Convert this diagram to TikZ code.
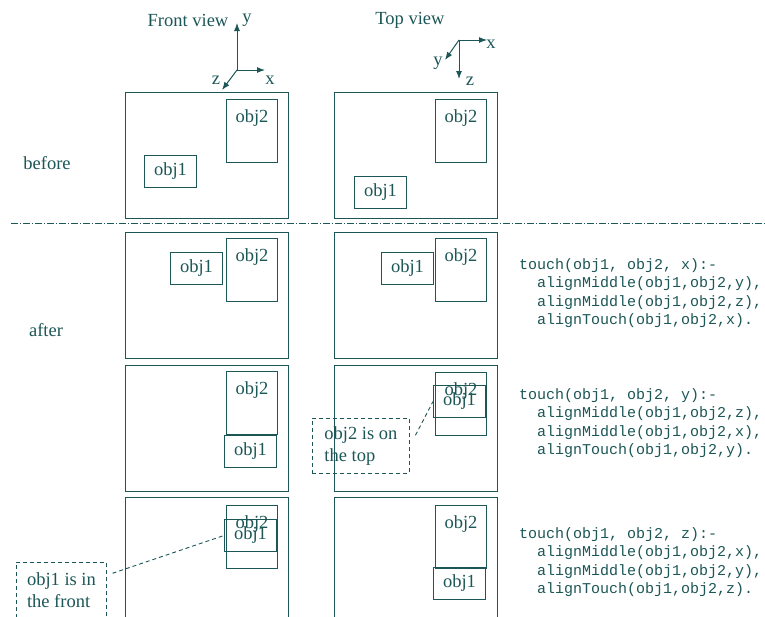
\documentclass[tikz,border=0pt]{standalone}
\usepackage{fontspec}
\setmainfont{Liberation Serif}
\setmonofont{Liberation Mono}
\usepackage{tikz}
\usetikzlibrary{arrows.meta}

\definecolor{ink}{RGB}{28,86,86}

\begin{document}
\begin{tikzpicture} [
	x=1pt, y=-1pt, % pixel-like coordinates, y grows downwards
	>={Latex[length=8pt, width=6pt]}, % filled heads for the axes
	every node/.style={text=ink, font=\fontsize{18.5}{22}\selectfont},
	frame/.style={draw=ink, line width=1.1pt, anchor=north west, inner sep=0pt, minimum width=163pt, minimum height=126pt},
	objone/.style={draw=ink, line width=1pt, anchor=north west, inner sep=0pt, minimum width=52pt, minimum height=32pt},
	objtwo/.style={draw=ink, line width=1pt, anchor=north west, inner sep=0pt, minimum width=51pt, minimum height=63pt,
		label={[anchor=base, label distance=-23pt]north:obj2}}, % name sits at the top
	note/.style={draw=ink, line width=0.9pt, dash pattern=on 4pt off 3pt, anchor=north west, inner xsep=9pt, minimum height=55pt, align=left},
	pointer/.style={draw=ink, line width=0.9pt, dash pattern=on 4pt off 3pt},
	axis/.style={->, draw=ink, line width=1pt},
	code/.style={anchor=north west, inner sep=0pt, align=left, font=\ttfamily\fontsize{15}{18.6}\selectfont},
	]
	\useasboundingbox (0,0) rectangle (765,616);
	\clip (0,0) rectangle (765,616);

	% headings and axes
	\node (front) at (188,20) {Front view};
	\node (top) at (410,20) {Top view};
	\coordinate (forig) at (237,70);
	\coordinate (fax) at (265,70);
	\coordinate (fay) at (237,23);
	\coordinate (faz) at (222,90);
	\draw[axis] (forig) -- (fax);
	\draw[axis] (forig) -- (fay);
	\draw[axis] (forig) -- (faz);
	\node (fxl) at (270,80) {x};
	\node (fyl) at (247,20) {y};
	\node (fzl) at (216,80) {z};
	\coordinate (torig) at (459,40);
	\coordinate (tax) at (487,40);
	\coordinate (tay) at (445,60);
	\coordinate (taz) at (459,79);
	\draw[axis] (torig) -- (tax);
	\draw[axis] (torig) -- (tay);
	\draw[axis] (torig) -- (taz);
	\node (txl) at (491,44) {x};
	\node (tyl) at (438,63) {y};
	\node (tzl) at (470,81) {z};

	\node (before) at (47,163) {before};
	\node (after) at (46,330) {after};

	% separator
	\coordinate (sepl) at (11,223);
	\coordinate (sepr) at (765,223);
	\draw[draw=ink, line width=1pt, dash pattern=on 7pt off 2pt on 1pt off 2pt] (sepl) -- (sepr);

	% before
	\node[frame] (fb) at (125,92) {};
	\node[frame] (tb) at (334,92) {};
	\node[objtwo] (fb2) at (226,99) {};
	\node[objone] (fb1) at (144,155) {obj1};
	\node[objtwo] (tb2) at (435,99) {};
	\node[objone] (tb1) at (354,176) {obj1};

	% touch along x
	\node[frame] (fxf) at (125,232) {};
	\node[frame] (txf) at (334,232) {};
	\node[objtwo] (fx2) at (226,238) {};
	\node[objone] (fx1) at (170,252) {obj1};
	\node[objtwo] (tx2) at (435,238) {};
	\node[objone] (tx1) at (381,252) {obj1};

	% touch along y
	\node[frame] (fyf) at (125,365) {};
	\node[frame] (tyf) at (334,365) {};
	\node[objtwo] (fy2) at (226,371) {};
	\node[objone] (fy1) at (224,435) {obj1};
	\node[objtwo] (ty2) at (435,372) {};
	\node[objone] (ty1) at (433,385) {obj1};

	% touch along z
	\node[frame] (fzf) at (125,497) {};
	\node[frame] (tzf) at (334,497) {};
	\node[objtwo] (fz2) at (226,505) {};
	\node[objone] (fz1) at (224,519) {obj1};
	\node[objtwo] (tz2) at (435,505) {};
	\node[objone] (tz1) at (433,567) {obj1};

	% remarks
	\node[note, minimum width=97pt] (n1) at (312,418) {obj2 is on\\the top};
	\node[note, minimum width=90pt] (n2) at (16,562) {obj1 is in\\the front};
	\draw[pointer, shorten <=12pt] (n1.east) -- (ty1.west);
	\draw[pointer, shorten <=6pt] (n2.18) -- (fz1.west);

	% rules
	\node[code] (rx) at (519,258) {touch(obj1, obj2, x):-\\
		\hspace*{1.2em}alignMiddle(obj1,obj2,y),\\
		\hspace*{1.2em}alignMiddle(obj1,obj2,z),\\
		\hspace*{1.2em}alignTouch(obj1,obj2,x).};
	\node[code] (ry) at (519,388) {touch(obj1, obj2, y):-\\
		\hspace*{1.2em}alignMiddle(obj1,obj2,z),\\
		\hspace*{1.2em}alignMiddle(obj1,obj2,x),\\
		\hspace*{1.2em}alignTouch(obj1,obj2,y).};
	\node[code] (rz) at (519,527) {touch(obj1, obj2, z):-\\
		\hspace*{1.2em}alignMiddle(obj1,obj2,x),\\
		\hspace*{1.2em}alignMiddle(obj1,obj2,y),\\
		\hspace*{1.2em}alignTouch(obj1,obj2,z).};
\end{tikzpicture}
\end{document}
